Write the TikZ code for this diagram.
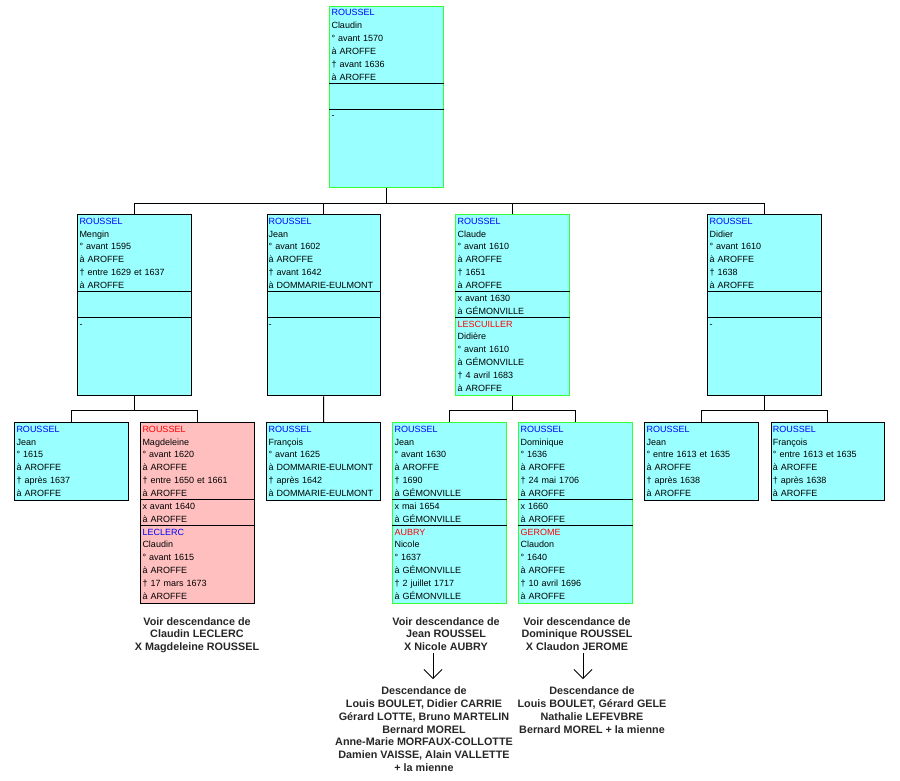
\documentclass[tikz,border=0pt]{standalone}
\usepackage{fontspec}
\setmainfont{Liberation Sans}
\usetikzlibrary{calc,arrows.meta}
\definecolor{fichecyan}{HTML}{99FFFF}
\definecolor{fichepink}{HTML}{FFBFBF}
\definecolor{fichegreen}{HTML}{33FF33}
\newcommand{\nom}[1]{\textcolor{blue}{#1}}
\newcommand{\nomf}[1]{\textcolor{red}{#1}}
\newcommand{\vide}{\mbox{}}

\begin{document}
\begin{tikzpicture}[x=1pt,y=1pt,
	fiche/.style={rectangle,draw=black,line width=1pt,fill=fichecyan,minimum width=113.4pt,inner sep=0pt,anchor=north west},
	couple/.style={fiche,minimum height=181pt},
	single/.style={fiche,minimum height=77.3pt},
	vert/.style={draw=fichegreen},
	rose/.style={fill=fichepink},
	info/.style={anchor=base west,inner sep=0pt,text width=110pt,align=left,font=\fontsize{9}{12.85}\selectfont},
	note/.style={anchor=north,inner sep=0pt,align=center,font=\fontsize{10.8}{12.8}\selectfont\bfseries,text=black!85},
	edge/.style={-,line width=1pt},
	arr/.style={-{Straight Barb[length=9pt,width=18pt]},line width=0.8pt}
	]
	\useasboundingbox (0,0) rectangle (900,-780);
	
	% generation 1
	\node[couple,vert] (claudinR) at (329.3,-6) {};
	\node[info] (claudinR-t) at ($(claudinR.north west)+(2,-9.9)$) {\nom{ROUSSEL}\\Claudin\\° avant 1570\\à AROFFE\\† avant 1636\\à AROFFE\\\vide\\\vide\\-};
	
	% generation 2
	\node[couple] (mengin) at (77.3,-214.3) {};
	\node[info] (mengin-t) at ($(mengin.north west)+(2,-9.9)$) {\nom{ROUSSEL}\\Mengin\\° avant 1595\\à AROFFE\\† entre 1629 et 1637\\à AROFFE\\\vide\\\vide\\-};
	\node[couple] (jeanA) at (266.5,-214.3) {};
	\node[info] (jeanA-t) at ($(jeanA.north west)+(2,-9.9)$) {\nom{ROUSSEL}\\Jean\\° avant 1602\\à AROFFE\\† avant 1642\\à DOMMARIE-EULMONT\\\vide\\\vide\\-};
	\node[couple,vert] (claude) at (455.3,-214.3) {};
	\node[info] (claude-t) at ($(claude.north west)+(2,-9.9)$) {\nom{ROUSSEL}\\Claude\\° avant 1610\\à AROFFE\\† 1651\\à AROFFE\\x avant 1630\\à GÉMONVILLE\\\nomf{LESCUILLER}\\Didière\\° avant 1610\\à GÉMONVILLE\\† 4 avril 1683\\à AROFFE};
	\node[couple] (didier) at (707.3,-214.3) {};
	\node[info] (didier-t) at ($(didier.north west)+(2,-9.9)$) {\nom{ROUSSEL}\\Didier\\° avant 1610\\à AROFFE\\† 1638\\à AROFFE\\\vide\\\vide\\-};
	
	% generation 3
	\node[single] (jeanB) at (14.3,-422.3) {};
	\node[info] (jeanB-t) at ($(jeanB.north west)+(2,-9.9)$) {\nom{ROUSSEL}\\Jean\\° 1615\\à AROFFE\\† après 1637\\à AROFFE};
	\node[couple,rose] (magdeleine) at (140.3,-422.3) {};
	\node[info] (magdeleine-t) at ($(magdeleine.north west)+(2,-9.9)$) {\nomf{ROUSSEL}\\Magdeleine\\° avant 1620\\à AROFFE\\† entre 1650 et 1661\\à AROFFE\\x avant 1640\\à AROFFE\\\nom{LECLERC}\\Claudin\\° avant 1615\\à AROFFE\\† 17 mars 1673\\à AROFFE};
	\node[single] (francoisA) at (266.3,-422.3) {};
	\node[info] (francoisA-t) at ($(francoisA.north west)+(2,-9.9)$) {\nom{ROUSSEL}\\François\\° avant 1625\\à DOMMARIE-EULMONT\\† après 1642\\à DOMMARIE-EULMONT};
	\node[couple,vert] (jeanC) at (392.3,-422.3) {};
	\node[info] (jeanC-t) at ($(jeanC.north west)+(2,-9.9)$) {\nom{ROUSSEL}\\Jean\\° avant 1630\\à AROFFE\\† 1690\\à GÉMONVILLE\\x mai 1654\\à GÉMONVILLE\\\nomf{AUBRY}\\Nicole\\° 1637\\à GÉMONVILLE\\† 2 juillet 1717\\à GÉMONVILLE};
	\node[couple,vert] (dominique) at (518.3,-422.3) {};
	\node[info] (dominique-t) at ($(dominique.north west)+(2,-9.9)$) {\nom{ROUSSEL}\\Dominique\\° 1636\\à AROFFE\\† 24 mai 1706\\à AROFFE\\x 1660\\à AROFFE\\\nomf{GEROME}\\Claudon\\° 1640\\à AROFFE\\† 10 avril 1696\\à AROFFE};
	\node[single] (jeanD) at (644.3,-422.3) {};
	\node[info] (jeanD-t) at ($(jeanD.north west)+(2,-9.9)$) {\nom{ROUSSEL}\\Jean\\° entre 1613 et 1635\\à AROFFE\\† après 1638\\à AROFFE};
	\node[single] (francoisB) at (770.7,-422.3) {};
	\node[info] (francoisB-t) at ($(francoisB.north west)+(2,-9.9)$) {\nom{ROUSSEL}\\François\\° entre 1613 et 1635\\à AROFFE\\† après 1638\\à AROFFE};
	
	% section lines
	\foreach \b in {claudinR,mengin,jeanA,claude,didier,magdeleine,jeanC,dominique}{
		\draw[edge] ($(\b.north west)+(0,-77.3)$) -- ($(\b.north east)+(0,-77.3)$);
		\draw[edge] ($(\b.north west)+(0,-103.3)$) -- ($(\b.north east)+(0,-103.3)$);
	}
	
	% tree
	\coordinate (bus0) at ($(claudinR.south)+(0,-15)$);
	\draw[edge] (claudinR.south) -- (bus0);
	\foreach \c in {mengin,jeanA,claude,didier}
		\draw[edge] (\c.north) |- (bus0);
	\coordinate (bus1) at ($(mengin.south)+(0,-14)$);
	\draw[edge] (mengin.south) -- (bus1);
	\draw[edge] (jeanB.north) |- (bus1);
	\draw[edge] (magdeleine.north) |- (bus1);
	\draw[edge] (jeanA.south) -- (francoisA.north);
	\coordinate (bus2) at ($(claude.south)+(0,-14)$);
	\draw[edge] (claude.south) -- (bus2);
	\draw[edge] (jeanC.north) |- (bus2);
	\draw[edge] (dominique.north) |- (bus2);
	\coordinate (bus3) at ($(didier.south)+(0,-14)$);
	\draw[edge] (didier.south) -- (bus3);
	\draw[edge] (jeanD.north) |- (bus3);
	\draw[edge] (francoisB.north) |- (bus3);
	
	% notes
	\node[note] (voirM) at (197,-617) {Voir descendance de\\Claudin LECLERC\\X Magdeleine ROUSSEL};
	\node[note] (voirJ) at (446,-617) {Voir descendance de\\Jean ROUSSEL\\X Nicole AUBRY};
	\node[note] (voirD) at (577,-617) {Voir descendance de\\Dominique ROUSSEL\\X Claudon JEROME};
	\node[note] (descJ) at (424,-686.6) {Descendance de\\Louis BOULET, Didier CARRIE\\Gérard LOTTE, Bruno MARTELIN\\Bernard MOREL\\Anne-Marie MORFAUX-COLLOTTE\\Damien VAISSE, Alain VALLETTE\\+ la mienne};
	\node[note] (descD) at (592,-686.6) {Descendance de\\Louis BOULET, Gérard GELE\\Nathalie LEFEVBRE\\Bernard MOREL + la mienne};
	
	\coordinate (arrJ1) at (433,-653);
	\coordinate (arrJ2) at (433,-679);
	\coordinate (arrD1) at (583,-653);
	\coordinate (arrD2) at (583,-679);
	\draw[arr] (arrJ1) -- (arrJ2);
	\draw[arr] (arrD1) -- (arrD2);
\end{tikzpicture}
\end{document}
